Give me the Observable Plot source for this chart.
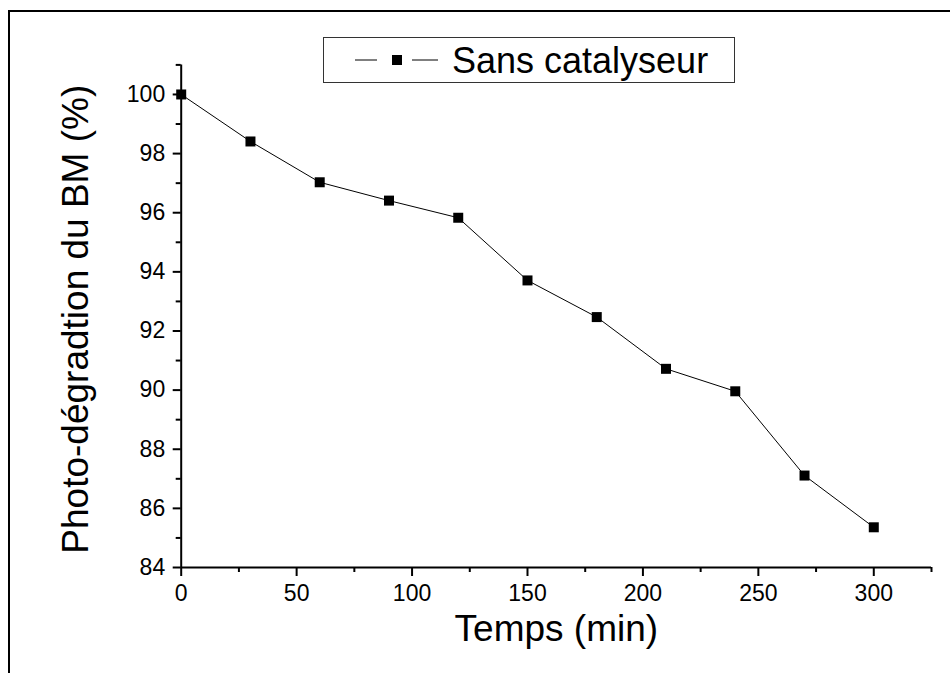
<!DOCTYPE html>
<html>
<head>
<meta charset="utf-8">
<script src="https://cdn.jsdelivr.net/npm/d3@7"></script>
<script src="https://cdn.jsdelivr.net/npm/@observablehq/plot@0.6"></script>
<style>
  html, body { margin: 0; padding: 0; background: #fff; }
  #wrap { position: relative; width: 950px; height: 673px; overflow: hidden; font-family: "Liberation Sans", Arial, sans-serif; }
  #frame { position: absolute; left: 8px; top: 10px; width: 2000px; height: 2000px; border-left: 2px solid #000; border-top: 2px solid #000; box-sizing: border-box; }
  #legend { position: absolute; left: 323px; top: 37px; }
  #chart { position: absolute; left: 0; top: 0; }
</style>
</head>
<body>
<div id="wrap">
  <div id="frame"></div>
  <div id="chart"></div>
  <svg id="legend" width="413" height="47" style="font-family: 'Liberation Sans', Arial, sans-serif;">
    <rect x="0.5" y="0.5" width="411" height="45" fill="#fff" stroke="#333" stroke-width="1"></rect>
    <line x1="32" x2="54" y1="23" y2="23" stroke="#000" stroke-width="1"></line>
    <rect x="69" y="18" width="10" height="10" fill="#000"></rect>
    <line x1="89" x2="115" y1="23" y2="23" stroke="#000" stroke-width="1"></line>
    <text x="129" y="36" font-size="36" fill="#000" id="legendText"></text>
  </svg>
</div>
<script>
// Data
const temps = [0, 30, 60, 90, 120, 150, 180, 210, 240, 270, 300];
const degradation = [100, 98.41, 97.03, 96.41, 95.83, 93.71, 92.47, 90.72, 89.96, 87.11, 85.36];
const seriesName = "Sans catalyseur";
const xLabel = "Temps (min)";
const yLabel = "Photo-dégradtion du BM (%)";
const xMajorTicks = [0, 50, 100, 150, 200, 250, 300];
const xMinorTicks = [25, 75, 125, 175, 225, 275, 325];
const yMajorTicks = [84, 86, 88, 90, 92, 94, 96, 98, 100];
const yMinorTicks = [85, 87, 89, 91, 93, 95, 97, 99, 101];

const data = temps.map((t, i) => ({t, v: degradation[i]}));
document.getElementById("legendText").textContent = seriesName;

const chart = Plot.plot({
  width: 950,
  height: 673,
  marginLeft: 180.7,
  marginRight: 19,
  marginTop: 64.4,
  marginBottom: 106,
  style: {fontFamily: "'Liberation Sans', Arial, sans-serif", background: "transparent", color: "#000"},
  x: {domain: [0, 325]},
  y: {domain: [84, 101]},
  marks: [
    Plot.axisX({ticks: xMajorTicks, tickSize: 9, tickPadding: 8, fontSize: 23, strokeWidth: 2, label: null}),
    Plot.axisX({ticks: xMinorTicks, tickSize: 5, text: null, strokeWidth: 2, label: null}),
    Plot.axisY({ticks: yMajorTicks, tickSize: 8, tickPadding: 8, fontSize: 23, strokeWidth: 2, label: null}),
    Plot.axisY({ticks: yMinorTicks, tickSize: 5, text: null, strokeWidth: 2, label: null}),
    Plot.ruleY([84], {stroke: "#000", strokeWidth: 2}),
    Plot.ruleX([0], {stroke: "#000", strokeWidth: 2}),
    Plot.line(data, {x: "t", y: "v", stroke: "#000", strokeWidth: 1}),
    Plot.dot(data, {x: "t", y: "v", symbol: "square", r: 5.64, fill: "#000", stroke: null}),
    Plot.text([xLabel], {frameAnchor: "bottom", dy: 73, fontSize: 37, fill: "#000"}),
    Plot.text([yLabel], {frameAnchor: "left", textAnchor: "middle", dx: -105, dy: 3, rotate: -90, fontSize: 37, fill: "#000"})
  ]
});
document.getElementById("chart").appendChild(chart);
</script>
</body>
</html>
